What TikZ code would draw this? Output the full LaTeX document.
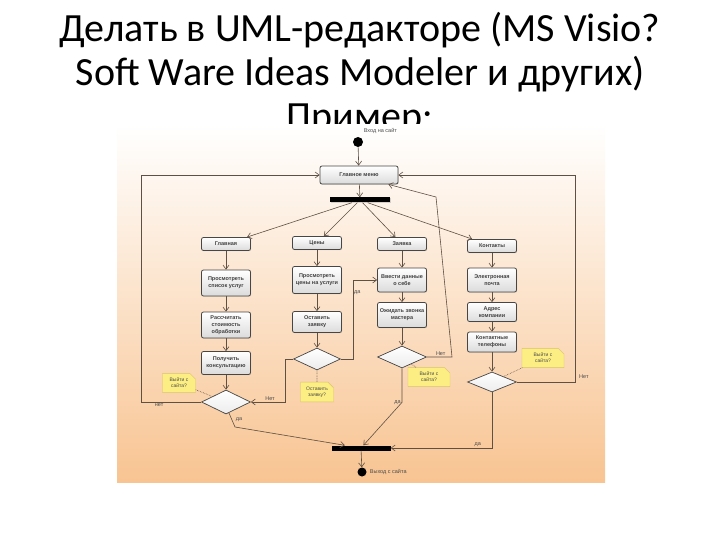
\documentclass[tikz,border=0pt]{standalone}
\usepackage{fontspec}
\setmainfont{Carlito}
\newfontfamily\umlfont{Liberation Sans}
\usetikzlibrary{positioning,arrows.meta,shapes.geometric,shapes.misc,shadows}

\definecolor{peach}{RGB}{248,196,146}
\definecolor{edgec}{RGB}{95,80,68}
\definecolor{notey}{RGB}{252,238,130}
\definecolor{noteb}{RGB}{215,195,110}
\definecolor{boxb}{RGB}{70,70,70}

\tikzset{
  flow/.style={draw=edgec, line width=0.6pt, -{Straight Barb[length=4pt,width=6pt]}},
  link/.style={draw=edgec, line width=0.6pt, densely dotted},
  lab/.style={font=\umlfont\fontsize{5.5}{6.5}\selectfont, text=black!70, inner sep=1pt}
}

\begin{document}
\begin{tikzpicture}[x=1pt, y=-1pt,
  title/.style={anchor=base, font=\fontsize{40}{44}\selectfont},
  act/.style={draw=boxb, line width=0.8pt, rounded corners=2pt, top color=white, bottom color=gray!28,
    minimum width=49pt, minimum height=13pt, inner sep=1pt, align=center,
    font=\umlfont\bfseries\fontsize{5.5}{6.8}\selectfont, text=black!75,
    drop shadow={opacity=0.25, shadow xshift=0.7pt, shadow yshift=-0.7pt}},
  dec/.style={diamond, draw=boxb, line width=0.7pt, top color=white, bottom color=gray!15,
    minimum width=49pt, minimum height=23pt, inner sep=0pt},
  bar/.style={fill=black, minimum width=60pt, minimum height=5pt, inner sep=0pt,
    drop shadow={opacity=0.3, shadow xshift=0.8pt, shadow yshift=-0.8pt}},
  note/.style={chamfered rectangle, chamfered rectangle corners=north east,
    chamfered rectangle xsep=2.5pt, draw=noteb, fill=notey, align=center, inner sep=1.5pt,
    minimum width=33pt, font=\umlfont\fontsize{5}{6}\selectfont, text=black!70}]
\useasboundingbox (0,0) rectangle (720,540);

% title
\node[title] (t1) at (360,42) {Делать в UML-редакторе (MS Visio?};
\node[title] (t2) at (360,86) {Soft Ware Ideas Modeler и других)};
\node[title] (t3) at (360,130) {Пример:};

% picture background
\shade[shading angle=-30, top color=white, bottom color=peach] (117,125) rectangle (605,482);

% start
\node[circle, fill=black, minimum size=10pt, inner sep=0pt] (start) at (358,142) {};
\node[lab, above right=4pt and 1pt of start] (inlab) {Вход на сайт};
\node[act, minimum width=78pt, minimum height=18pt] (menu) at (359,175) {Главное меню};
\node[bar] (fork) at (360,200) {};

% columns
\node[act] (home) at (226,244) {Главная};
\node[act] (price) at (317,243) {Цены};
\node[act] (order) at (402,244) {Заявка};
\node[act] (cont) at (492,246) {Контакты};

\node[act, minimum height=26pt] (list) at (226,283) {Просмотреть\\список услуг};
\node[act, minimum height=26pt] (calc) at (226,325) {Рассчитать\\стоимость\\обработки};
\node[act, minimum height=23pt] (cons) at (226,363) {Получить\\консультацию};
\node[dec, minimum height=24pt] (d1) at (226,402) {};

\node[act, minimum height=27pt] (view) at (317,280) {Просмотреть\\цены на услуги};
\node[act, minimum height=21pt] (leave) at (317,322) {Оставить\\заявку};
\node[dec, minimum width=47pt, minimum height=22pt] (d2) at (317,359) {};

\node[act, minimum height=24pt] (enter) at (402,280) {Ввести данные\\о себе};
\node[act, minimum height=25pt] (wait) at (402,315) {Ожидать звонка\\мастера};
\node[dec, minimum height=22pt] (d3) at (402,357) {};

\node[act, minimum height=24pt] (mail) at (492,280) {Электронная\\почта};
\node[act, minimum height=19pt] (addr) at (492,312) {Адрес\\компании};
\node[act, minimum height=20pt] (phone) at (492,342) {Контактные\\телефоны};
\node[dec, minimum height=20pt] (d4) at (492,382) {};

% notes
\node[note] (n1) at (179,383) {Выйти с\\сайта?};
\node[note] (n2) at (317,392) {Оставить\\заявку?};
\node[note, minimum width=42pt] (n3) at (429,377) {Выйти с\\сайта?};
\node[note, minimum width=42pt] (n4) at (543,358) {Выйти с\\сайта?};

% end
\node[bar, minimum width=59pt] (join) at (361,448) {};
\node[circle, fill=black, minimum size=9pt, inner sep=0pt] (stop) at (362,472) {};
\node[lab, right=2pt of stop] (outlab) {Выход с сайта};

% flows
\draw[flow] (start) -- (menu);
\draw[flow] (menu) -- (fork);
\foreach \t in {home,price,order,cont}
  \draw[flow] (fork) -- (\t);
\foreach \a/\b in {home/list, list/calc, calc/cons, cons/d1, price/view, view/leave, leave/d2,
    order/enter, enter/wait, wait/d3, cont/mail, mail/addr, addr/phone, phone/d4}
  \draw[flow] (\a) -- (\b);
\draw[flow] (join) -- (stop);

% decisions
\draw[flow] (d1.west) -- ++(-60,0) node[lab, below, pos=0.7] {нет} |- (menu.west);
\coordinate (y1) at (235,427);
\draw[flow] (d1.-75) -- node[lab, right=3pt, pos=0.45] {да} (y1) -- (join);

\draw[flow] (d2.east) -- ++(12,0) |- node[lab, right, pos=0.42] {да} (enter.west);
\draw[flow] (d2.west) -- ++(-8,0) |- node[lab, above, pos=0.72] {Нет} (d1.east);

\coordinate (nA) at (452,357);
\coordinate (nB) at (436,197);
\draw[flow] (d3.east) -- node[lab, above, pos=0.55] {Нет} (nA) -- (nB) -- ([xshift=-10pt]menu.south east);
\draw[flow] (d3.south) -- ++(0,34) node[lab, left] {да} -- (join);

\draw[flow] (d4.east) -- ++(58,0) node[lab, above right=2pt and 3pt] {Нет} |- (menu.east);
\draw[flow] (d4.south) |- node[lab, above, pos=0.57] {да} (join.east);

% note links
\draw[link] (n1) -- (d1);
\draw[link] (n2) -- (d2);
\draw[link] (n3) -- (d3);
\draw[link] (n4) -- (d4);
\end{tikzpicture}
\end{document}
